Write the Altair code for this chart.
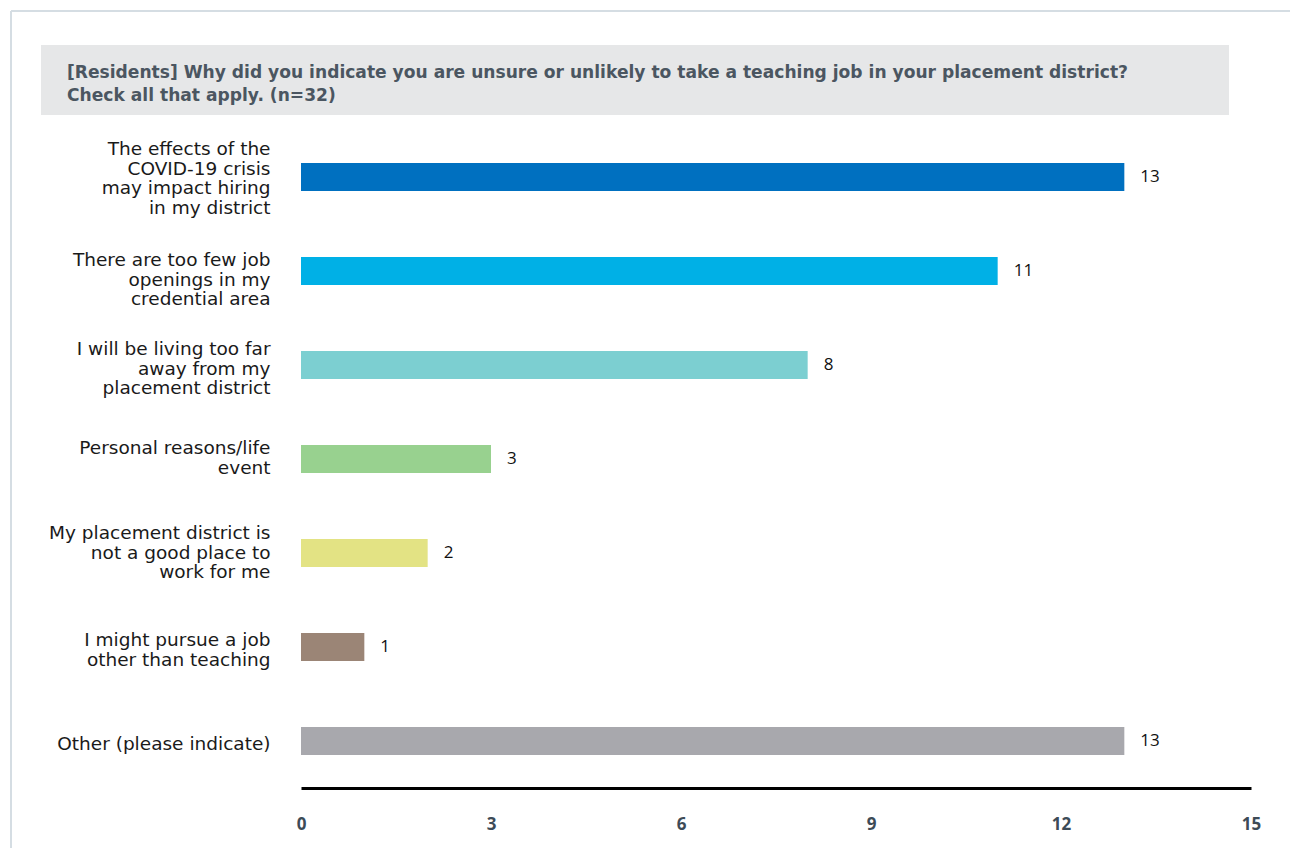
import altair as alt
import pandas as pd

categories = [
    "The effects of the COVID-19 crisis may impact hiring in my district",
    "There are too few job openings in my credential area",
    "I  will be living too far away from my placement district",
    "Personal reasons/life event",
    "My placement district is not a good place to work for me",
    "I might pursue a job other than teaching",
    "Other (please indicate)",
]
label_lines = [
    "The effects of the|COVID-19 crisis|may impact hiring|in my district",
    "There are too few job|openings in my|credential area",
    "I  will be living too far|away from my|placement district",
    "Personal reasons/life|event",
    "My placement district is|not a good place to|work for me",
    "I might pursue a job|other than teaching",
    "Other (please indicate)",
]
values = [13, 11, 8, 3, 2, 1, 13]
colors = ["#0070c0", "#00b0e6", "#7ccfd1", "#98d18f", "#e3e384", "#9b8576", "#a8a8ad"]
x_ticks = [0, 3, 6, 9, 12, 15]
title_lines = [
    "[Residents] Why did you indicate you are unsure or unlikely to take a teaching job in your placement district?",
    "Check all that apply. (n=32)",
]
label_shift = [-28, -11, -16, -11, -20, -7, 3]

df = pd.DataFrame({"cat": categories, "val": values})
one = pd.DataFrame({"k": [0]})

label_map = "{" + ",".join(
    "'" + c + "':'" + l + "'" for c, l in zip(categories, label_lines)
) + "}"

FONT = "Open Sans"
LABEL_FONT = "DejaVu Sans"
TITLE_FONT = "DejaVu Sans"
W, H = 950, 658

offset_cond = {
    "condition": [
        {"test": "datum.value == '" + c + "'", "value": s}
        for c, s in zip(categories, label_shift)
    ],
    "value": 0,
}

y_enc = alt.Y(
    "cat:N",
    sort=categories,
    scale=alt.Scale(paddingInner=0.7, paddingOuter=0.35),
    axis=alt.Axis(
        title=None,
        domain=False,
        ticks=False,
        labelPadding=31,
        labelFontSize=18.5,
        labelFont=LABEL_FONT,
        labelColor="#1a1a1a",
        labelLimit=0,
        labelLineHeight=19.5,
        labelOffset=offset_cond,
        labelExpr="split(" + label_map + "[datum.label], '|')",
    ),
)

x_enc = alt.X(
    "val:Q",
    scale=alt.Scale(domain=[0, 15], nice=False),
    axis=alt.Axis(
        title=None,
        values=x_ticks,
        format="d",
        grid=False,
        ticks=False,
        domainColor="#000000",
        domainWidth=3,
        labelPadding=28,
        labelFontSize=17,
        labelFont=FONT,
        labelFontWeight="bold",
        labelColor="#3d4b57",
        labelFlush=False,
    ),
)

bars = alt.Chart(df).mark_bar().encode(
    y=y_enc,
    x=x_enc,
    color=alt.Color("cat:N", scale=alt.Scale(domain=categories, range=colors), legend=None),
)

texts = alt.Chart(df).mark_text(
    align="left", baseline="middle", dx=16, fontSize=17, font=FONT, color="#111111"
).encode(
    y=alt.Y("cat:N", sort=categories),
    x=alt.X("val:Q"),
    text="val:Q",
)

title_box = alt.Chart(one).mark_rect(color="#e6e7e8").encode(
    x=alt.value(-260), x2=alt.value(928), y=alt.value(-85), y2=alt.value(-15)
)
title1 = alt.Chart(one).mark_text(
    text=title_lines[0], align="left", baseline="middle", fontSize=17.1, font=TITLE_FONT,
    fontWeight="bold", color="#4b5661",
).encode(x=alt.value(-234), y=alt.value(-57))
title2 = alt.Chart(one).mark_text(
    text=title_lines[1], align="left", baseline="middle", fontSize=17.1, font=TITLE_FONT,
    fontWeight="bold", color="#4b5661",
).encode(x=alt.value(-234), y=alt.value(-34))

frame_v = alt.Chart(one).mark_rule(color="#d5dde3", strokeWidth=2).encode(
    x=alt.value(-290), y=alt.value(-119), y2=alt.value(H + 80)
)
frame_h = alt.Chart(one).mark_rule(color="#d5dde3", strokeWidth=2).encode(
    y=alt.value(-119), x=alt.value(-290), x2=alt.value(W + 60)
)

chart = alt.layer(frame_v, frame_h, title_box, title1, title2, bars, texts).properties(
    width=W,
    height=H,
    autosize=alt.AutoSizeParams(type="none"),
    padding={"left": 293, "top": 122, "right": 39, "bottom": 60},
).configure_view(stroke=None)

chart.save("out.html", embed_options={"renderer": "svg", "actions": False})
